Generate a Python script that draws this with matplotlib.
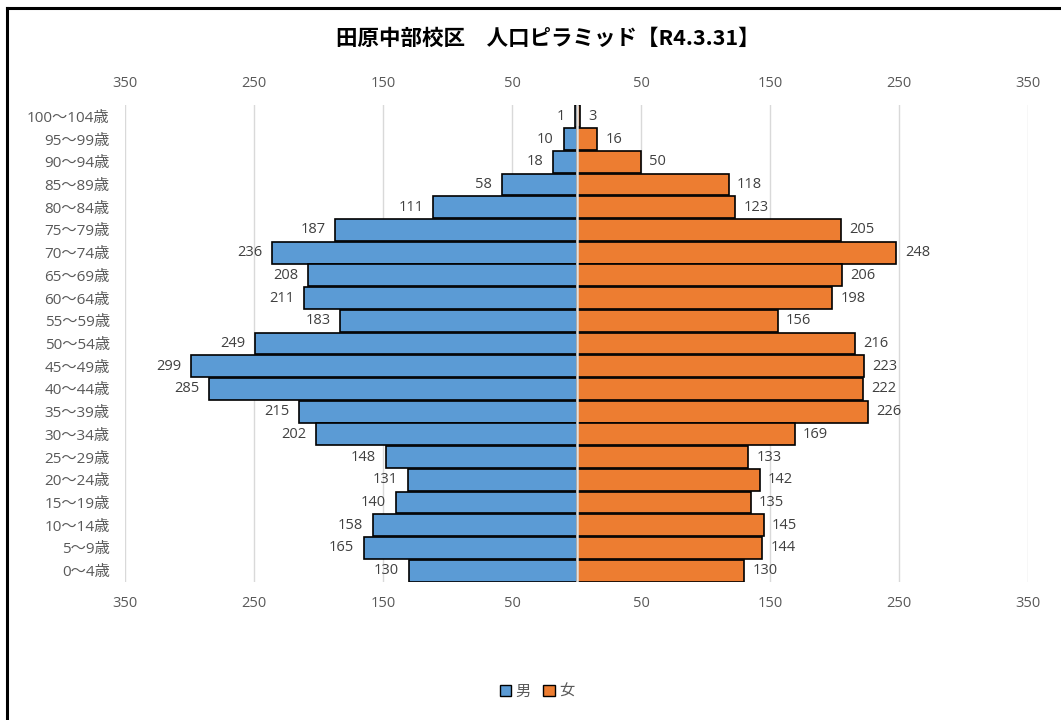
import matplotlib
matplotlib.use("Agg")
import matplotlib.pyplot as plt
from matplotlib.lines import Line2D
from matplotlib.patches import Patch
import numpy as np

plt.rcParams['font.family'] = ['Open Sans', 'Noto Sans CJK JP', 'DejaVu Sans']

age_groups = ["100～104歳", "95～99歳", "90～94歳", "85～89歳", "80～84歳", "75～79歳",
              "70～74歳", "65～69歳", "60～64歳", "55～59歳", "50～54歳", "45～49歳",
              "40～44歳", "35～39歳", "30～34歳", "25～29歳", "20～24歳", "15～19歳",
              "10～14歳", "5～9歳", "0～4歳"]
male = [1, 10, 18, 58, 111, 187, 236, 208, 211, 183, 249, 299, 285, 215, 202, 148, 131, 140, 158, 165, 130]
female = [3, 16, 50, 118, 123, 205, 248, 206, 198, 156, 216, 223, 222, 226, 169, 133, 142, 135, 145, 144, 130]
tick_values = [-350, -250, -150, -50, 50, 150, 250, 350]
title = "田原中部校区　人口ピラミッド【R4.3.31】"

W, H = 1061, 720
fig = plt.figure(figsize=(W / 100, H / 100), dpi=100)
ax = fig.add_axes([125 / W, 1 - 582 / H, (1028 - 125) / W, (582 - 105) / H])

blue = "#5B9BD5"
orange = "#ED7D31"
y = np.arange(len(age_groups))

ax.barh(y, [-v for v in male], height=0.96, color=blue, edgecolor="black", linewidth=1.2, zorder=3)
ax.barh(y, female, height=0.96, color=orange, edgecolor="black", linewidth=1.2, zorder=3)
ax.axvline(0, color="#e0e0e0", lw=1.8, zorder=5)

lab_col = "#404040"
for i, (m, f) in enumerate(zip(male, female)):
    ax.annotate(str(m), (-m, i), xytext=(-7, 0), textcoords="offset points",
                ha="right", va="center", fontsize=10.5, color=lab_col)
    ax.annotate(str(f), (f, i), xytext=(6, 0), textcoords="offset points",
                ha="left", va="center", fontsize=10.5, color=lab_col)

ax.set_xlim(-350, 350)
ax.set_ylim(len(age_groups) - 0.5, -0.5)
ax.set_xticks(tick_values)
ax.set_xticklabels([str(abs(v)) for v in tick_values])
ax.set_yticks(y)
ax.set_yticklabels(age_groups)
ax.tick_params(axis="x", top=True, labeltop=True, bottom=True, labelbottom=True,
               length=0, pad=10, labelsize=10.5, labelcolor="#595959")
ax.tick_params(axis="y", length=0, pad=11, labelsize=11, labelcolor="#595959")
ax.grid(axis="x", color="#d9d9d9", lw=1, zorder=0)
for s in ax.spines.values():
    s.set_visible(False)

fig.text(548 / W, 1 - 38 / H, title, ha="center", va="center",
         fontsize=15.5, fontweight="bold", color="black",
         family=['Noto Sans CJK JP', 'DejaVu Sans'])

handles = [Patch(facecolor=blue, edgecolor="black", label="男"),
           Patch(facecolor=orange, edgecolor="black", label="女")]
fig.legend(handles=handles, loc="center", bbox_to_anchor=(537 / W, 1 - 692 / H), ncol=2,
           frameon=False, fontsize=11, labelcolor="#595959", handlelength=0.75,
           handleheight=0.75, handletextpad=0.3, columnspacing=0.8)

# outer border (top and left visible)
fig.add_artist(Line2D([7 / W, 1.0], [1 - 8 / H, 1 - 8 / H], color="black", lw=2.2,
                      transform=fig.transFigure))
fig.add_artist(Line2D([7 / W, 7 / W], [0.0, 1 - 8 / H], color="black", lw=2.2,
                      transform=fig.transFigure))

fig.savefig("out.png", dpi=100)
